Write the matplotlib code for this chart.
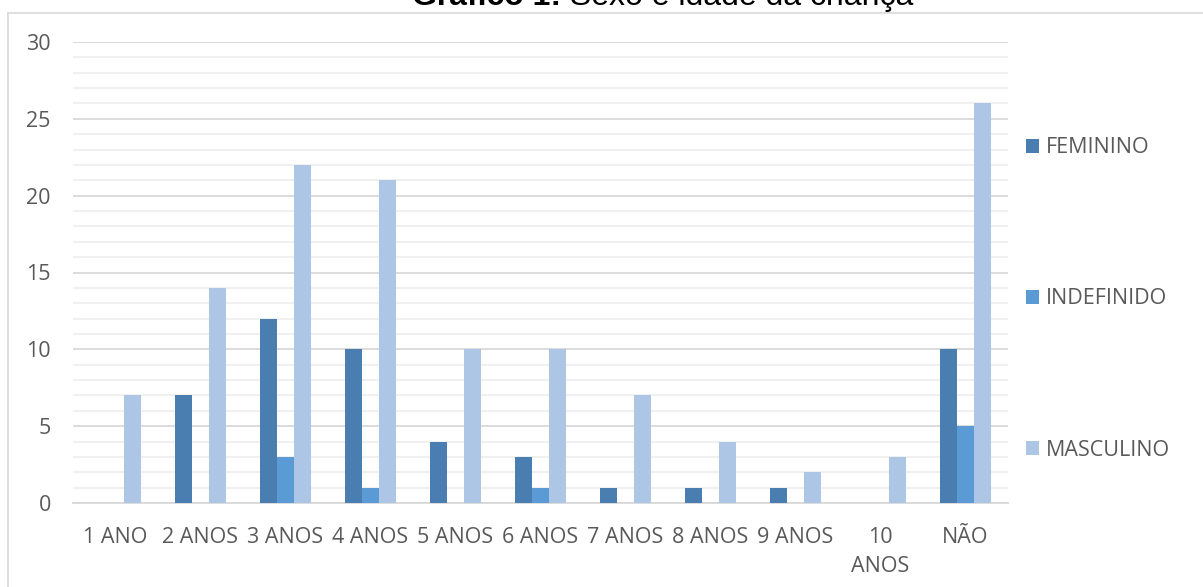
import matplotlib
matplotlib.use("Agg")
import matplotlib.pyplot as plt
import numpy as np
from matplotlib.lines import Line2D

categories = ["1 ANO", "2 ANOS", "3 ANOS", "4 ANOS", "5 ANOS", "6 ANOS",
              "7 ANOS", "8 ANOS", "9 ANOS", "10\nANOS", "NÃO"]
feminino = [0, 7, 12, 10, 4, 3, 1, 1, 1, 0, 10]
indefinido = [0, 0, 3, 1, 0, 1, 0, 0, 0, 0, 5]
masculino = [7, 14, 22, 21, 10, 10, 7, 4, 2, 3, 26]
series_names = ["FEMININO", "INDEFINIDO", "MASCULINO"]
colors = ["#4A7EB0", "#5B9BD5", "#ADC6E5"]

W, H = 1203, 587
FS = 15.5
fig = plt.figure(figsize=(W / 100, H / 100), dpi=100)
fig.patch.set_facecolor("white")

ax = fig.add_axes([73 / W, 1 - 503 / H, (1008 - 73) / W, (503 - 42) / H])

x = np.arange(len(categories))
bw = 0.2
handles = []
for i, (vals, name, c) in enumerate(zip([feminino, indefinido, masculino], series_names, colors)):
    b = ax.bar(x + (i - 1) * bw, vals, width=bw, color=c, label=name, zorder=3)
    handles.append(b)

ax.set_xlim(-0.5, len(categories) - 0.5)
ax.set_ylim(0, 30)
ax.set_yticks(np.arange(0, 31, 5))
ax.set_yticks(np.arange(0, 31, 1), minor=True)
ax.grid(axis="y", which="major", color="#D9D9D9", linewidth=1.3, zorder=0)
ax.grid(axis="y", which="minor", color="#F0F0F0", linewidth=1.5, zorder=0)
ax.set_axisbelow(True)

for s in ["top", "right", "left"]:
    ax.spines[s].set_visible(False)
ax.spines["bottom"].set_color("#D9D9D9")
ax.spines["bottom"].set_linewidth(1.3)

ax.set_xticks(x)
ax.set_xticklabels(categories, fontfamily="Open Sans", fontsize=FS,
                   color="#595959", linespacing=1.5, va="top")
ax.tick_params(axis="x", which="both", length=0, pad=17.5)
ax.tick_params(axis="y", which="both", length=0, pad=16,
               labelsize=FS, labelcolor="#595959")
for lab in ax.get_yticklabels():
    lab.set_fontfamily("Open Sans")

leg = fig.legend(handles=handles, labels=series_names, loc="center left",
                 bbox_to_anchor=(1017 / W, 1 - 299 / H), frameon=False,
                 prop={"family": "Open Sans", "size": FS},
                 handlelength=0.62, handleheight=0.62, handletextpad=0.3,
                 labelspacing=6.05, borderaxespad=0)
for t in leg.get_texts():
    t.set_color("#595959")

# chart area border (top and left edges)
fig.add_artist(Line2D([8 / W, 1.0], [1 - 12.5 / H, 1 - 12.5 / H],
                      transform=fig.transFigure, color="#D9D9D9", linewidth=1.2))
fig.add_artist(Line2D([8 / W, 8 / W], [1 - 12.5 / H, 0],
                      transform=fig.transFigure, color="#D9D9D9", linewidth=1.2))

# title: bold prefix followed by regular text
t1 = fig.text(412 / W, 1 - 5 / H, "Gráfico 1:", fontfamily="Liberation Sans",
              fontweight="bold", fontsize=23, color="black", va="baseline", ha="left")
fig.canvas.draw()
bb = t1.get_window_extent(renderer=fig.canvas.get_renderer())
fig.text(bb.x1 / W, 1 - 5 / H, " Sexo e idade da criança", fontfamily="Liberation Sans",
         fontsize=23, color="black", va="baseline", ha="left")

fig.savefig("out.png", dpi=100, facecolor="white")
